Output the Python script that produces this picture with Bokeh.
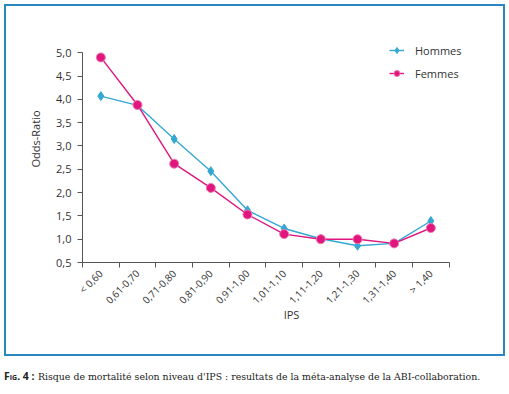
import math
from bokeh.plotting import figure
from bokeh.models import Range1d, FixedTicker, Legend, LegendItem, Div
from bokeh.layouts import column
from bokeh.embed import file_html
from bokeh.resources import INLINE

categories = ["< 0,60", "0,61-0,70", "0,71-0,80", "0,81-0,90", "0,91-1,00",
              "1,01-1,10", "1,11-1,20", "1,21-1,30", "1,31-1,40", "> 1,40"]
hommes = [4.07, 3.87, 3.15, 2.46, 1.62, 1.23, 1.01, 0.86, 0.91, 1.39]
femmes = [4.90, 3.88, 2.62, 2.10, 1.53, 1.11, 1.00, 1.00, 0.91, 1.24]
y_ticks = [0.5, 1.0, 1.5, 2.0, 2.5, 3.0, 3.5, 4.0, 4.5, 5.0]
y_tick_labels = ["0,5", "1,0", "1,5", "2,0", "2,5", "3,0", "3,5", "4,0", "4,5", "5,0"]
caption_head = "Fig. 4 :"
caption_body = "Risque de mortalité selon niveau d'IPS : resultats de la méta-analyse de la ABI-collaboration."

BLUE = "#35a7d3"
MAGENTA = "#e0157d"
TXT = "#333333"
AX = "#555555"
BORDER = "#2a86c0"
FONT = "Open Sans"

n = len(categories)
xs = [i + 0.5 for i in range(n)]
bounds = list(range(n + 1))

# the frame is larger than the axes so that the legend (above / right of the axes) is not clipped
p = figure(width=497, height=348, output_backend="svg", toolbar_location=None,
           x_range=Range1d(0, 11.4), y_range=Range1d(0.5, 5.8),
           min_border_left=76, min_border_right=7, min_border_top=9, min_border_bottom=96,
           margin=(4, 0, 0, 4),
           styles={"border": "2px solid " + BORDER, "box-sizing": "content-box"})
p.outline_line_color = None
p.grid.grid_line_color = None
p.background_fill_color = "white"
p.border_fill_color = "white"

# x axis: labels at category centres, ticks at category boundaries
xa = p.xaxis[0]
xa.bounds = (0, n)
xa.ticker = FixedTicker(ticks=xs, minor_ticks=bounds)
xa.major_label_overrides = {x: c for x, c in zip(xs, categories)}
xa.major_tick_line_color = None
xa.minor_tick_line_color = AX
xa.minor_tick_in = 0
xa.minor_tick_out = 5
xa.major_label_orientation = math.pi / 4
xa.major_label_standoff = 3
xa.major_label_text_font_size = "10px"
xa.axis_label = "IPS"
xa.axis_label_standoff = -8

ya = p.yaxis[0]
ya.bounds = (y_ticks[0], y_ticks[-1])
ya.ticker = FixedTicker(ticks=y_ticks)
ya.major_label_overrides = {t: l for t, l in zip(y_ticks, y_tick_labels)}
ya.minor_tick_line_color = None
ya.major_tick_line_color = AX
ya.major_tick_in = 0
ya.major_tick_out = 5
ya.major_label_standoff = 6
ya.major_label_text_font_size = "11px"
ya.axis_label = "Odds-Ratio"
ya.axis_label_standoff = 10

for ax in (xa, ya):
    ax.axis_line_color = AX
    ax.major_label_text_font = FONT
    ax.major_label_text_color = TXT
    ax.axis_label_text_font = FONT
    ax.axis_label_text_font_size = "11px"
    ax.axis_label_text_font_style = "normal"
    ax.axis_label_text_color = TXT

lh = p.line(xs, hommes, line_color=BLUE, line_width=1.4)
sh = p.scatter(xs, hommes, marker="diamond", size=9, fill_color=BLUE, line_color=BLUE)
lf = p.line(xs, femmes, line_color=MAGENTA, line_width=1.4)
sf = p.scatter(xs, femmes, marker="circle", size=9, fill_color=MAGENTA, line_color="#f07ab0", line_width=1)

legend = Legend(items=[LegendItem(label="Hommes", renderers=[lh, sh]),
                       LegendItem(label="Femmes", renderers=[lf, sf])],
                location=(307, 179), padding=0, margin=0, spacing=3,
                glyph_width=15, glyph_height=20, label_height=20, label_standoff=11,
                border_line_color=None, background_fill_alpha=0,
                label_text_font=FONT, label_text_font_size="11px", label_text_color=TXT)
p.add_layout(legend, "center")

caption = Div(
    text=('<div style="line-height:12px;color:#222;white-space:nowrap">'
          '<span style="font-family:\'Open Sans\';font-weight:bold;font-variant:small-caps;font-size:10.5px">'
          + caption_head + '</span> '
          '<span style="font-family:\'DejaVu Serif\';font-size:9.4px">' + caption_body + '</span></div>'),
    width=501, height=14, margin=(12, 0, 0, 4))

layout = column(p, caption, spacing=0)

open("out.html", "w").write(file_html(layout, INLINE))
